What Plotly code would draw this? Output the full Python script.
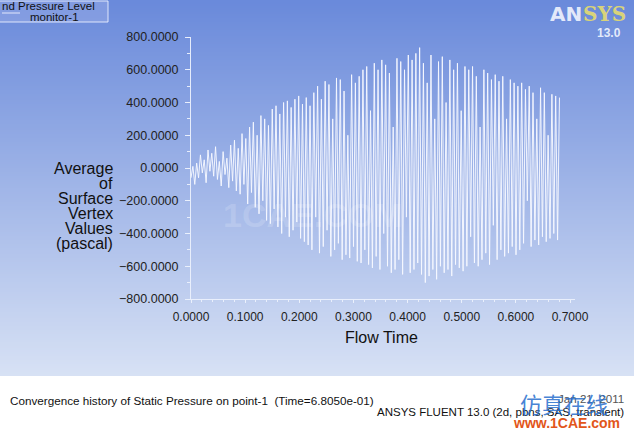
import plotly.graph_objects as go
import numpy as np

# ---------------- data ----------------
t_end = 0.6805
pressure = [
    # early small oscillation
    -60, 10, -100, 30, -60, 80, -30, 50, -90, 110, -20, 90, -50, 130, -70, 40, -110, 100, -40, 60, -120, 140, -80, 170, -140, 120,
    # growth
    -160, 210, -100, 180, -220, 250, -150, 280, -240, 200, -280, 320, -200, 300, -320, 260, -340, 360, -250, 380, -360, 330,
    -400, 400, -300, 410, -420, 370, -380, 420, -330, 440, -430, 390, -450, 430,
    # 0.21 - 0.31
    -470, 380, -500, 460, -300, 500, -520, 420, -480, 530, -380, 510, -540, 300, -500, 550, -460, 540, -560, 470, -530, 200,
    -550, 570, -480, 520, -570, 560,
    # 0.31 - 0.41
    -580, 600, -500, 620, -590, 350, -610, 640, -540, 600, -620, 660, -400, 630, -600, 580, -640, 250, -620, 670, -560, 650,
    -650, 600, -300, 690, -640, 660,
    # 0.41 - 0.51
    -620, 700, -580, 735, -650, 640, -700, 520, -660, 690, -620, 300, -680, 650, -600, 680, -640, 400, -620, 660, -660, 600,
    -590, 640, -610, 350, -630, 620,
    # 0.51 - 0.60
    -600, 600, -420, 620, -580, 560, -600, 250, -560, 600, -520, 580, -590, 540, -350, 570, -560, 530, -500, 560, -540, 300,
    -520, 540, -480, 520, -530, 500,
    # 0.60 - 0.68
    -500, 520, -460, 480, -200, 500, -480, 460, -440, 300, -470, 490, -420, 460, -450, 200, -430, 450, -400, 440, -440, 430,
]
flow_time = np.linspace(0.0, t_end, len(pressure))

x_ticks = [0.0, 0.1, 0.2, 0.3, 0.4, 0.5, 0.6, 0.7]
y_ticks = [-800, -600, -400, -200, 0, 200, 400, 600, 800]
y_title_lines = ["Average", "of", "Surface", "Vertex", "Values", "(pascal)"]

# ---------------- layout geometry ----------------
W, H = 634, 434
L, R, T, B = 191, 59, 37, 135
PW, PH = W - L - R, H - T - B


def px(x):
    return (x - L) / PW


def py(y):
    return (H - B - y) / PH


FONT = "Liberation Sans, Arial, sans-serif"

fig = go.Figure()
fig.add_trace(go.Scatter(
    x=flow_time, y=pressure, mode="lines",
    line=dict(color="rgba(245,248,255,0.95)", width=1),
    hoverinfo="skip", showlegend=False,
))

shapes = []
# background gradient
top_c = np.array([106, 138, 219])
bot_c = np.array([216, 226, 245])
g_end = 376
step = 2
for y0 in range(0, g_end, step):
    f = y0 / g_end
    c = top_c + (bot_c - top_c) * f
    shapes.append(dict(
        type="rect", xref="paper", yref="paper",
        x0=px(0), x1=px(W), y0=py(y0 + step), y1=py(y0),
        fillcolor="rgb(%d,%d,%d)" % tuple(c.astype(int)),
        line=dict(width=0), layer="below",
    ))
# legend box
shapes.append(dict(type="rect", xref="paper", yref="paper",
                   x0=px(-2), x1=px(108), y0=py(22), y1=py(1),
                   fillcolor="rgba(150,170,230,0.55)",
                   line=dict(color="rgba(235,240,255,0.9)", width=1), layer="below"))
shapes.append(dict(type="line", xref="paper", yref="paper",
                   x0=px(2), x1=px(20), y0=py(13), y1=py(13),
                   line=dict(color="rgba(235,240,255,0.9)", width=1), layer="below"))

annotations = []


def ann(text, x, y, size, xanchor="left", color="#111", **kw):
    annotations.append(dict(
        text=text, x=px(x), y=py(y), xref="paper", yref="paper",
        xanchor=xanchor, yanchor="middle", showarrow=False,
        font=dict(family=kw.pop("family", FONT), size=size, color=color), **kw))


for i, line in enumerate(y_title_lines):
    ann(line, 115, 168 + i * 15.1, 16, xanchor="right")
ann("Flow Time", 381, 337, 16, xanchor="center")

ann("nd Pressure Level", 0, 5.5, 11.5)
ann("monitor-1", 54, 16.5, 11.5, xanchor="center")

# ANSYS logo
ann("<b>AN</b>", 548, 14, 20, color="rgba(235,240,252,0.95)", family="DejaVu Sans, sans-serif")
ann("<b>SYS</b>", 581, 14, 20, color="#d8d37a", family="DejaVu Serif, serif")
ann("<b>13.0</b>", 623, 33, 12, xanchor="right", color="rgba(235,240,252,0.95)")

# faint watermark inside plot
ann("<b>1CAE.COM</b>", 312, 215, 34, xanchor="center", color="rgba(255,255,255,0.17)")

# bottom texts
ann("Convergence history of Static Pressure on point-1  (Time=6.8050e-01)", 8, 401, 11.7)
ann("Jan 21, 2011", 626, 398, 11.6, xanchor="right", color="#555")
ann("ANSYS FLUENT 13.0 (2d, pbns, SAS, transient)", 626, 412, 11.5, xanchor="right")
ann("仿真在线", 610, 403, 22, xanchor="right", color="rgba(40,110,205,0.85)",
    family="Noto Sans CJK SC, sans-serif")
ann("<b>www.1CAE.com</b>", 622, 423, 14, xanchor="right", color="#e2561a")

axis_col = "rgba(235,240,252,0.95)"
fig.update_layout(
    width=W, height=H,
    margin=dict(l=L, r=R, t=T, b=B, pad=0),
    paper_bgcolor="white",
    plot_bgcolor="rgba(0,0,0,0)",
    showlegend=False,
    shapes=shapes,
    annotations=annotations,
    xaxis=dict(
        range=[0, 0.7092], tickvals=x_ticks, tickformat=".4f",
        showgrid=False, zeroline=False, showline=True, linecolor=axis_col, linewidth=1,
        ticks="outside", ticklen=3, tickcolor=axis_col, ticklabelstandoff=4,
        tickfont=dict(family=FONT, size=12, color="#222"),
        minor=dict(dtick=0.02, ticks="outside", ticklen=2, tickcolor=axis_col),
    ),
    yaxis=dict(
        range=[-800, 800], tickvals=y_ticks, tickformat=".4f",
        showgrid=False, zeroline=False, showline=True, linecolor=axis_col, linewidth=1,
        ticks="outside", ticklen=5, tickcolor=axis_col, ticklabelstandoff=4,
        tickfont=dict(family=FONT, size=12.5, color="#222"),
        minor=dict(dtick=100, ticks="outside", ticklen=3, tickcolor=axis_col),
    ),
)

fig.write_html("out.html", config={"displayModeBar": False},
               post_script="document.body.style.margin='0';document.body.style.overflow='hidden';")
